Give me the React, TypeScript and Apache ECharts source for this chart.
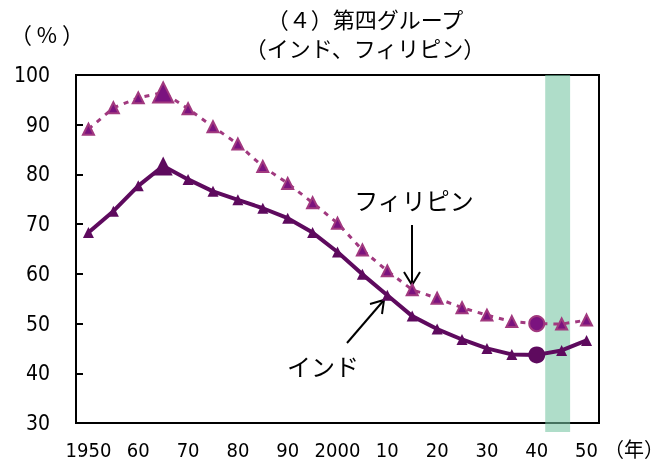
import React, { useEffect, useRef } from "react";
import * as echarts from "echarts";

const years = ["1950","1955","1960","1965","1970","1975","1980","1985","1990","1995","2000","2005","2010","2015","2020","2025","2030","2035","2040","2045","2050"];
const india = [68.3,72.6,77.7,81.7,79.0,76.6,74.9,73.2,71.2,68.3,64.4,59.9,55.7,51.5,48.9,46.8,45.0,43.8,43.7,44.6,46.6];
const philippines = [89.1,93.4,95.4,96.5,93.2,89.6,86.1,81.6,78.2,74.3,70.2,64.8,60.6,56.8,55.1,53.2,51.7,50.4,50.0,49.9,50.7];
const yTicks = { min: 30, max: 100, interval: 10 };
const peakYear = "1965";
const baseYear = "2040";
const band = [2041.7, 2046.7];
const xRange = [1947.5, 2052.5];

const FONT = "'Liberation Sans Narrow', 'DejaVu Sans Condensed', 'Noto Sans CJK JP', sans-serif";
const JFONT = "'Noto Sans CJK JP', sans-serif";

export default function App() {
  const ref = useRef<HTMLDivElement>(null);
  useEffect(() => {
    if (!ref.current) return;
    const chart = echarts.init(ref.current, null, { renderer: "svg" });
    const indiaColor = "#5E0A5E";
    const phColor = "#A1397F";
    const phFill = "#7B137F";
    const indiaData = india.map((v, i) => {
      if (years[i] === peakYear) return { value: v, symbol: "triangle", symbolSize: 19 };
      if (years[i] === baseYear) return { value: v, symbol: "circle", symbolSize: 17 };
      return { value: v };
    });
    const phData = philippines.map((v, i) => {
      if (years[i] === peakYear) return { value: v, symbol: "triangle", symbolSize: 20 };
      if (years[i] === baseYear) return { value: v, symbol: "circle", symbolSize: 15 };
      return { value: v };
    });
    chart.setOption({
      animation: false,
      grid: [
        { left: 76, right: 66, top: 75, bottom: 41, show: true, borderColor: "#000", borderWidth: 2, z: 1 },
        { left: 76, right: 66, top: 75, bottom: 32, show: false },
      ],
      xAxis: [
        {
          type: "category",
          data: years,
          gridIndex: 0,
          boundaryGap: true,
          axisLine: { lineStyle: { color: "#000", width: 2 } },
          axisTick: { inside: true, interval: 0, length: 7, lineStyle: { color: "#000", width: 2 } },
          axisLabel: {
            interval: 1,
            margin: 17,
            color: "#000",
            fontFamily: FONT,
            fontSize: 20,
            formatter: (v: string) => (v === "1950" || v === "2000" ? v : v.slice(2)),
          },
          splitLine: { show: false },
        },
        { type: "value", gridIndex: 1, min: xRange[0], max: xRange[1], show: false },
      ],
      yAxis: [
        {
          type: "value",
          gridIndex: 0,
          min: yTicks.min,
          max: yTicks.max,
          interval: yTicks.interval,
          axisLine: { show: true, lineStyle: { color: "#000", width: 2 } },
          axisTick: { show: true, inside: true, length: 7, lineStyle: { color: "#000", width: 2 } },
          axisLabel: { margin: 26, color: "#000", fontFamily: FONT, fontSize: 21 },
          splitLine: { show: false },
        },
        { type: "value", gridIndex: 1, min: 0, max: 1, show: false },
      ],
      series: [
        {
          name: "フィリピン",
          type: "line",
          data: phData,
          symbol: "triangle",
          symbolSize: 11,
          lineStyle: { color: phColor, width: 3, type: [5, 6] },
          itemStyle: { color: phFill, borderColor: phColor, borderWidth: 2 },
          z: 3,
        },
        {
          name: "インド",
          type: "line",
          data: indiaData,
          symbol: "triangle",
          symbolSize: 11,
          lineStyle: { color: indiaColor, width: 4 },
          itemStyle: { color: indiaColor },
          z: 4,
        },
        {
          type: "line",
          xAxisIndex: 1,
          yAxisIndex: 1,
          data: [],
          z: 10,
          markArea: {
            silent: true,
            itemStyle: { color: "rgba(118,196,162,0.58)" },
            data: [[{ xAxis: band[0] }, { xAxis: band[1] }]],
          },
        },
      ],
      graphic: [
        { type: "text", x: 365, y: 18, style: { text: "（４）第四グループ", align: "center", verticalAlign: "middle", fontFamily: JFONT, fontSize: 22, fill: "#000" } },
        { type: "text", x: 365, y: 47, style: { text: "（インド、フィリピン）", align: "center", verticalAlign: "middle", fontFamily: JFONT, fontSize: 22, fill: "#000" } },
        { type: "text", x: 47, y: 33, style: { text: "（ % ）", align: "center", verticalAlign: "middle", fontFamily: JFONT, fontSize: 22, fill: "#000" } },
        { type: "text", x: 634, y: 448, style: { text: "（年）", align: "center", verticalAlign: "middle", fontFamily: JFONT, fontSize: 20, fill: "#000" } },
        { type: "text", x: 414, y: 199, style: { text: "フィリピン", align: "center", verticalAlign: "middle", fontFamily: JFONT, fontSize: 24, fill: "#000" } },
        { type: "text", x: 323, y: 365, style: { text: "インド", align: "center", verticalAlign: "middle", fontFamily: JFONT, fontSize: 24, fill: "#000" } },
        { type: "line", shape: { x1: 412, y1: 225, x2: 412, y2: 285 }, style: { stroke: "#000", lineWidth: 2 } },
        { type: "polyline", shape: { points: [[404, 272], [412, 285], [420, 272]] }, style: { stroke: "#000", lineWidth: 2, fill: null } },
        { type: "line", shape: { x1: 347, y1: 343, x2: 384, y2: 300 }, style: { stroke: "#000", lineWidth: 2 } },
        { type: "polyline", shape: { points: [[370, 304], [384, 300], [382, 314]] }, style: { stroke: "#000", lineWidth: 2, fill: null } },
      ],
    });
    return () => chart.dispose();
  }, []);
  return <div ref={ref} style={{ position: "fixed", left: 0, top: 0, width: 665, height: 464 }} />;
}
